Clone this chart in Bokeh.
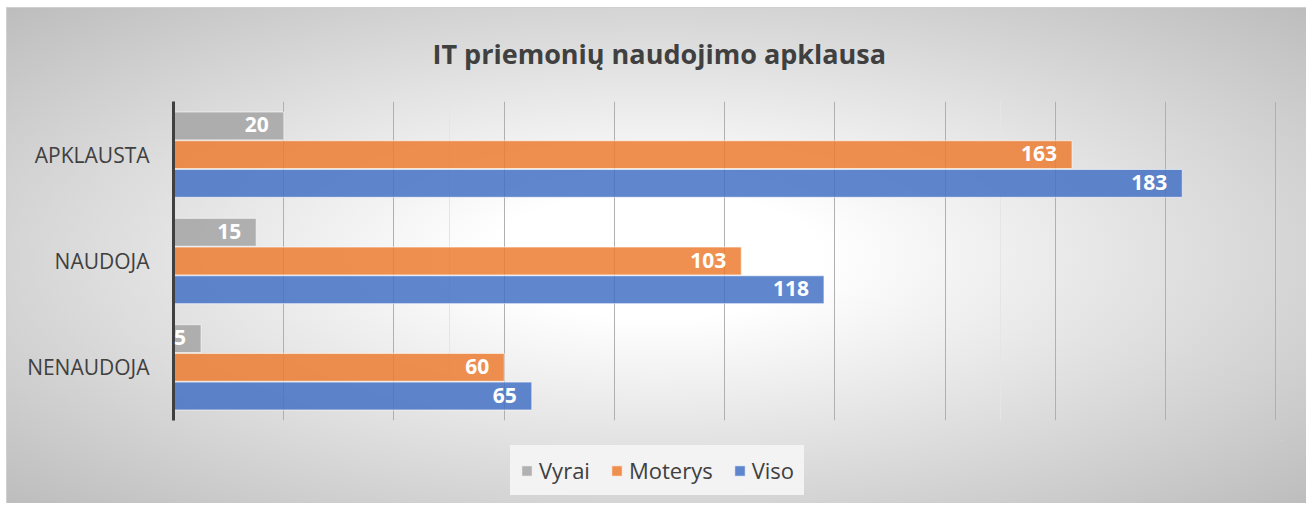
from bokeh.plotting import figure
from bokeh.layouts import column
from bokeh.models import (ColumnDataSource, FactorRange, Range1d, LabelSet, Legend,
                          LegendItem, SingleIntervalTicker, Grid)
from bokeh.core.properties import value
from bokeh.transform import dodge
from bokeh.embed import file_html
from bokeh.resources import INLINE

categories = ["APKLAUSTA", "NAUDOJA", "NENAUDOJA"]
series = ["Vyrai", "Moterys", "Viso"]
vyrai = [20, 15, 5]
moterys = [163, 103, 60]
viso = [183, 118, 65]
colors = ["#A5A5A5", "#ED7D31", "#4472C4"]

src = ColumnDataSource(dict(
    cat=categories,
    vyrai=vyrai, moterys=moterys, viso=viso,
    vyrai_t=[str(v) for v in vyrai],
    moterys_t=[str(v) for v in moterys],
    viso_t=[str(v) for v in viso],
))

FONT = "Open Sans"
W = 1306

p = figure(width=W, height=440, output_backend="svg", toolbar_location=None,
           y_range=FactorRange(factors=categories[::-1], range_padding=0),
           x_range=Range1d(0, 201), x_axis_location=None,
           min_border_left=173, min_border_right=25,
           min_border_top=101, min_border_bottom=20)
p.border_fill_color = None
p.background_fill_color = None
p.outline_line_color = None
p.ygrid.grid_line_color = None

p.title.text = "IT priemonių naudojimo apklausa"
p.title.align = "left"
p.title.text_font = FONT
p.title.text_font_size = "27px"
p.title.text_font_style = "bold"
p.title.text_color = "#404040"
p.title.offset = 259
p.title.standoff = 60

grid = Grid(dimension=0, ticker=SingleIntervalTicker(interval=20),
            grid_line_color="#b0b0b0", grid_line_width=1)
p.add_layout(grid)

offsets = [0.27, 0.0, -0.27]
keys = ["vyrai", "moterys", "viso"]
for key, off, col in zip(keys, offsets, colors):
    p.hbar(y=dodge("cat", off, range=p.y_range), left=0, right=key, height=0.262,
           fill_color=col, fill_alpha=0.85, line_color="white", line_alpha=0.6,
           line_width=1, source=src)
    lab = LabelSet(x=key, y=dodge("cat", off, range=p.y_range), text=key + "_t",
                   source=src, text_align="right", text_baseline="middle",
                   x_offset=-15, y_offset=1, text_color="white",
                   text_font_style="bold", text_font_size="21px",
                   text_font=value(FONT))
    p.add_layout(lab)

ya = p.yaxis[0]
ya.axis_line_color = "#404040"
ya.axis_line_width = 3
ya.major_tick_line_color = None
ya.minor_tick_line_color = None
ya.major_label_standoff = 18
ya.major_label_text_font = FONT
ya.major_label_text_font_size = "21px"
ya.major_label_text_color = "#404040"

# legend strip (its own small plot; series glyphs lie far outside its visible range)
lf = figure(width=W, height=63, output_backend="svg", toolbar_location=None,
            x_range=Range1d(0, 1), y_range=Range1d(-1000, -999),
            x_axis_location=None, y_axis_location=None,
            min_border_left=173, min_border_right=25, min_border_top=0, min_border_bottom=0)
lf.border_fill_color = None
lf.background_fill_color = None
lf.outline_line_color = None
lf.grid.visible = False
items = []
for key, col, name in zip(keys, colors, series):
    r = lf.hbar(y=key, right=key, left=key, height=0.5, source=src,
                fill_color=col, fill_alpha=0.85, line_color="white", line_alpha=0.6)
    items.append(LegendItem(label=name, renderers=[r]))
legend = Legend(items=items, orientation="horizontal", location=(337, 8),
                glyph_width=13, glyph_height=13, label_standoff=6, spacing=20,
                padding=0, margin=0, background_fill_color="#f3f3f3",
                background_fill_alpha=1, border_line_color="#f3f3f3",
                border_line_width=10,
                label_text_font=FONT, label_text_font_size="22px",
                label_text_color="#404040")
lf.add_layout(legend, "center")

layout = column(p, lf, spacing=0)
layout.styles = {
    "background": ("radial-gradient(ellipse farthest-corner at 50% 50%, #ffffff 0%, #ffffff 18%, #bdbdbd 100%) 7px 8px / 1299px 495px no-repeat, "
                   "linear-gradient(#d0d0d0, #d0d0d0) 6px 7px / 1301px 497px no-repeat, #ffffff"),
}

open("out.html", "w").write(file_html(layout, INLINE))
